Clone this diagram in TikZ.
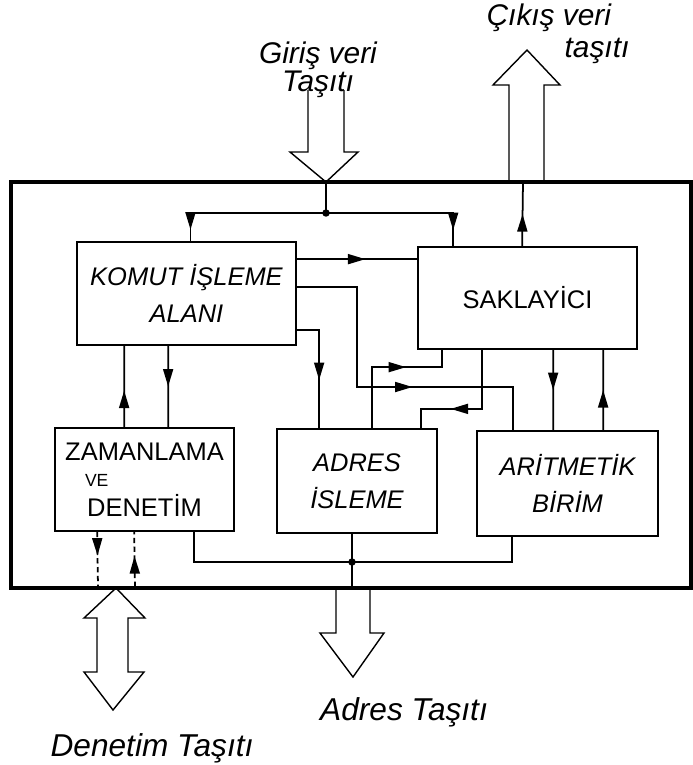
\documentclass[tikz,border=0pt]{standalone}
\usepackage{fontspec}
\setmainfont{Liberation Sans}
\usetikzlibrary{arrows.meta,calc,decorations.markings}

\begin{document}
\begin{tikzpicture}[
    x=0.02cm, y=-0.02cm,
    blok/.style={draw, line width=1pt, align=center, inner sep=0pt,
      font=\fontsize{14.5}{21}\selectfont},
    egik/.style={blok, font=\itshape\fontsize{14.5}{21}\selectfont},
    yol/.style={line width=1pt},
    ok/.style={yol, postaction={decorate, decoration={markings,
      mark=at position #1 with {\arrow{Triangle[length=3.5mm,width=2mm]}}}}},
    tasit/.style={line width=0.8pt, line join=miter},
    etiket/.style={font=\itshape\fontsize{18}{18}\selectfont, align=center},
    nokta/.style={circle, fill, inner sep=1.5pt}
  ]
  \useasboundingbox (0,0) rectangle (693,765);

  % blocks
  \node[egik, minimum width=4.38cm, minimum height=2.06cm] (komut) at (186.5,293.5) {KOMUT İŞLEME\\ALANI};
  \node[blok, minimum width=4.38cm, minimum height=2.04cm] (sakla) at (527.5,298) {SAKLAYİCI};
  \node[blok, minimum width=3.58cm, minimum height=2.06cm] (zaman) at (144.5,479.5) {ZAMANLAMA\\[-6pt]\makebox[3.2cm][l]{\hspace{0.41cm}\fontsize{10}{10}\selectfont VE}\\[-4pt]DENETİM};
  \node[egik, minimum width=3.2cm, minimum height=2.08cm] (adres) at (357,481) {ADRES\\İSLEME};
  \node[egik, minimum width=3.62cm, minimum height=2.1cm] (arit) at (567.5,483.5) {ARİTMETİK\\BİRİM};

  % frame
  \draw[line width=2pt] (11,182) rectangle (691,588);

  \coordinate (giris) at (326,182);
  \coordinate (dal) at (326,213);
  \coordinate (cikis) at (523,182);
  \coordinate (k1) at ($(komut.north east)+(0,18)$);
  \coordinate (k2) at ($(komut.north east)+(0,46)$);
  \coordinate (k3) at ($(komut.north east)+(0,89)$);
  \coordinate (adresbus) at (352,562);
  \coordinate (adrescikis) at (352,588);
  \coordinate (d1) at (98,587);
  \coordinate (d2) at (135,587);
  \coordinate (denetim) at (116,588);

  % buses
  \draw[tasit] (308,90) -- (308,152) -- (290,152) -- (giris) -- (358,152) -- (344,152) -- (344,90);
  \draw[tasit] (509,182) -- (509,85) -- (493,85) -- (527,50) -- (560,85) -- (544,85) -- (544,182);
  \draw[tasit] (336,590) -- (336,633) -- (320,633) -- (353,677) -- (384,633) -- (370,633) -- (370,590);
  \draw[tasit] (denetim) -- (145,618) -- (128,618) -- (128,672) -- (144,672) -- (113,710)
    -- (84,672) -- (97,672) -- (97,618) -- (84,618) -- cycle;

  % connections
  \draw[yol] (giris) -- (dal);
  \node[nokta] (n1) at (dal) {};
  \draw[ok=0.93] (dal) -| ($(komut.north)+(4,0)$);
  \draw[ok=0.9] (dal) -| ($(sakla.north west)+(36,0)$);
  \draw[ok=0.5] ($(sakla.north west)+(105,0)$) -- (cikis);
  \draw[ok=0.57] (k1) -- (k1 -| sakla.west);
  \draw[ok=0.6] (k2) -| (357,387) -| ($(arit.north west)+(37,0)$);
  \draw[ok=0.6] (k3) -| ($(adres.north west)+(43,0)$);
  \draw[ok=0.64] ($(adres.north west)+(96,0)$) -- ++(0,-61) -| ($(sakla.south west)+(25,0)$);
  \draw[ok=0.65] ($(sakla.south west)+(65,0)$) -- ++(0,59) -| ($(adres.north west)+(145,0)$);
  \draw[ok=0.5] ($(sakla.south west)+(136,0)$) -- ($(arit.north west)+(77,0)$);
  \draw[ok=0.5] ($(arit.north west)+(127,0)$) -- ($(sakla.south west)+(186,0)$);
  \draw[ok=0.5] ($(komut.south west)+(92,0)$) -- ($(zaman.north west)+(114,0)$);
  \draw[ok=0.45] ($(zaman.north west)+(70,0)$) -- ($(komut.south west)+(48,0)$);
  \draw[ok=0.43, densely dashed] ($(zaman.south west)+(43,0)$) -- (d1);
  \draw[ok=0.56, densely dashed] (d2) -- ($(zaman.south west)+(80,0)$);
  \draw[yol] ($(zaman.south east)+(-41,0)$) |- (adresbus);
  \draw[yol] ($(arit.south west)+(36,0)$) |- (adresbus);
  \draw[yol] ($(adres.south)+(-5,0)$) -- (adrescikis);
  \node[nokta] (n2) at (adresbus) {};

  % labels
  \node[etiket, font=\itshape\fontsize{17}{14}\selectfont] (giristxt) at (318,70) {Giriş veri\\Taşıtı};
  \node[etiket, align=left, font=\itshape\fontsize{17}{18}\selectfont] (cikistxt) at (558,34) {Çıkış veri\\\hspace*{1.56cm}taşıtı};
  \node[etiket] (adrestxt) at (404,712) {Adres Taşıtı};
  \node[etiket] (denetimtxt) at (152,748) {Denetim Taşıtı};
\end{tikzpicture}
\end{document}
